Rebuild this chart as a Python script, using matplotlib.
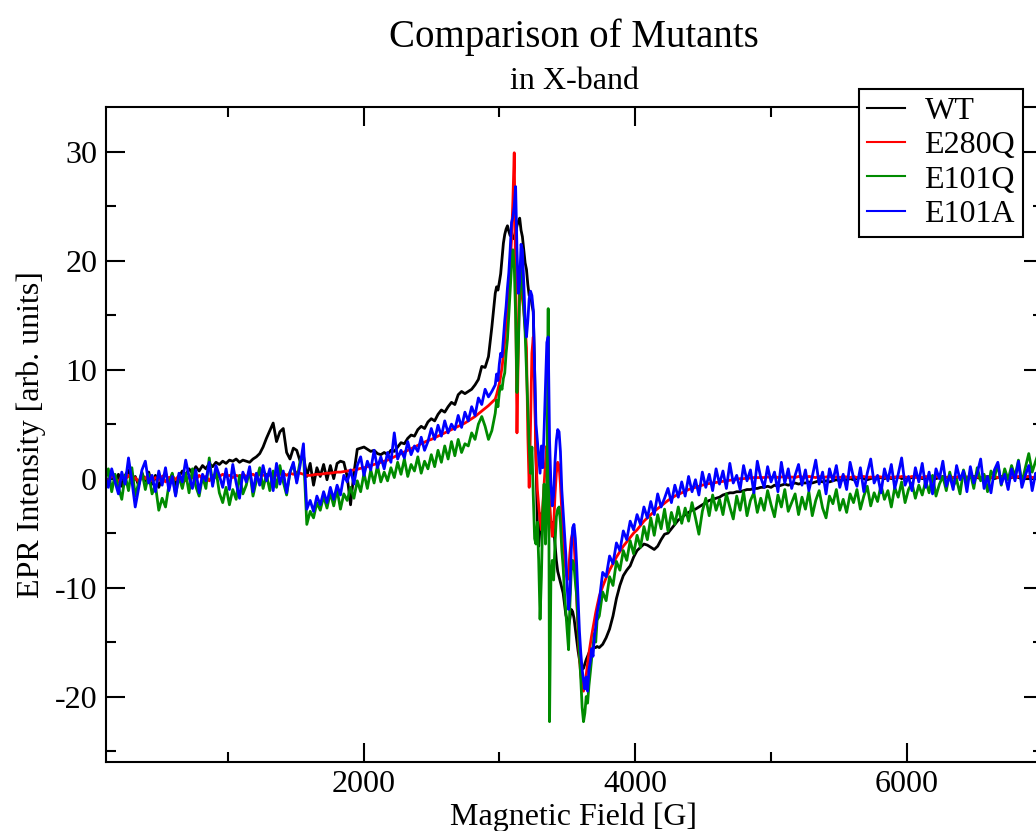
import numpy as np
import matplotlib
matplotlib.use("Agg")
import matplotlib.pyplot as plt
from matplotlib.ticker import MultipleLocator

plt.rcParams['font.family'] = 'Liberation Serif'
plt.rcParams['axes.unicode_minus'] = False

# field grids [G]: outer parts ~25 G apart, the central lines every 10 G
field_lo = np.linspace(96, 2945, 116)
field_c = np.arange(2970, 3721, 10)
field_hi = np.linspace(3736, 7000, 130)

# ---- WT (black)
wt_lo = [0.2, -0.5, 0.6, -0.3, 0.4, -0.7, 0.3, 0.8, -0.4, 0.2, -0.6, 0.5,
         -0.2, 0.6, -0.5, 0.3, -0.8, 0.1, 0.5, -0.3, 0.4, -0.6, 0.2, 0.7,
         0.3, 0.9, 0.5, 1.1, 0.7, 1.2, 0.9, 1.4, 1.1, 1.5, 1.3, 1.6,
         1.4, 1.7, 1.6, 1.8, 1.5, 1.7, 1.6, 1.5, 1.8, 2.0, 2.3, 2.9,
         3.7, 4.4, 5.1, 3.4, 4.3, 4.6, 2.4, 1.8, 2.8, 2.6, 1.6, 2.1,
         0.2, 1.4, -0.6, 1.0, 0.2, 1.3, -0.1, 1.2, 0.0, 1.4, 1.6, 1.5,
         0.2, -2.4, 0.5, 2.7, 2.8, 2.9, 2.7, 2.5, 2.6, 2.3, 2.2, 2.4,
         2.2, 2.6, 2.5, 2.9, 3.3, 3.2, 3.7, 4.0, 3.9, 4.5, 4.8, 4.6,
         5.2, 5.5, 5.3, 5.9, 6.3, 6.1, 6.6, 7.0, 6.8, 7.7, 8.0, 7.8,
         8.0, 8.2, 8.6, 9.1, 10.3, 10.2, 11.2, 13.9]
wt_c = [17.0, 17.6, 17.3, 18.0, 18.8, 20.2, 21.6, 22.4, 22.9, 23.2,
        22.7, 22.3, 22.7, 22.1, 22.0, 22.5, 23.2, 23.6, 23.9, 22.8,
        22.2, 21.0, 19.8, 19.2, 17.8, 16.8, 16.9, 16.0, 15.3, 10.0,
        2.0, -4.0, -6.2, -4.5, -3.2, -3.0, -3.5, -3.8, -3.4, -3.0,
        -3.6, -4.2, -4.0, -4.5, -6.0, -7.5, -8.5, -9.0, -9.5, -10.0,
        -10.5, -11.5, -12.5, -13.0, -13.5, -12.8, -12.0, -12.2, -12.8, -13.8,
        -14.8, -15.8, -16.6, -17.2, -17.5, -17.4, -17.0, -16.6, -16.3, -16.0,
        -15.8, -15.7, -15.6, -15.5, -15.5, -15.4]
wt_hi = [-15.5, -15.2, -14.6, -13.8, -12.6, -11.0, -9.8, -8.9, -8.4, -8.0, -7.2, -6.6,
         -6.3, -6.0, -6.1, -6.3, -6.5, -6.2, -5.6, -5.1, -5.0, -4.6, -4.2, -3.8,
         -3.6, -3.3, -3.1, -2.9, -2.8, -2.6, -2.4, -2.2, -2.0, -1.9, -1.8, -1.7,
         -1.5, -1.4, -1.3, -1.3, -1.2, -1.2, -1.1, -1.0, -1.0, -0.9, -0.9, -0.8,
         -0.8, -0.7, -0.8, -0.6, -0.7, -0.6, -0.5, -0.6, -0.5, -0.4, -0.5, -0.4,
         -0.4, -0.3, -0.4, -0.3, -0.2, -0.3, -0.2, -0.3, -0.2, -0.1, -0.2, -0.1,
         -0.1, 0.0, -0.1, 0.0, 0.1, 0.0, -0.1, 0.0, 0.1, 0.0, 0.1, 0.0,
         0.1, 0.0, 0.1, 0.2, 0.0, 0.1, 0.0, 0.1, 0.2, 0.1, 0.0, 0.1,
         0.2, 0.1, 0.0, 0.1, 0.2, 0.1, 0.0, 0.1, 0.1, 0.2, 0.1, 0.0,
         0.1, 0.2, 0.1, 0.0, 0.1, 0.2, 0.1, 0.0, 0.1, 0.2, 0.1, 0.0,
         0.1, 0.2, 0.1, 0.0, 0.1, 0.2, 0.1, 0.0, 0.1, 0.1]

# ---- E280Q (red)
e280q_lo = [0.1, -0.2, 0.3, 0.0, -0.3, 0.2, -0.1, 0.3, -0.2, 0.1, -0.3, 0.2,
            0.0, 0.3, -0.2, 0.1, -0.1, 0.2, -0.3, 0.1, 0.2, -0.1, 0.3, 0.0,
            -0.2, 0.2, 0.1, -0.1, 0.3, 0.0, 0.2, -0.2, 0.3, 0.1, 0.2, 0.4,
            0.2, 0.3, 0.1, 0.3, 0.2, 0.4, 0.2, 0.3, 0.4, 0.2, 0.4, 0.3,
            0.4, 0.3, 0.5, 0.3, 0.4, 0.5, 0.3, 0.5, 0.4, 0.6, 0.5, 0.4,
            0.3, 0.3, 0.35, 0.4, 0.4, 0.45, 0.5, 0.5, 0.55, 0.6, 0.6, 0.65,
            0.7, 0.75, 0.8, 0.85, 0.95, 1.0, 1.1, 1.2, 1.3, 1.4, 1.5, 1.6,
            1.7, 1.85, 2.0, 2.15, 2.3, 2.45, 2.6, 2.75, 2.9, 3.05, 3.2, 3.35,
            3.5, 3.6, 3.75, 3.9, 4.05, 4.2, 4.35, 4.5, 4.65, 4.8, 4.95, 5.1,
            5.3, 5.5, 5.7, 5.95, 6.2, 6.45, 6.7, 7.0]
e280q_c = [7.3, 7.7, 8.2, 8.7, 9.4, 10.2, 11.3, 12.6, 14.2, 16.0,
           17.5, 19.5, 22.0, 25.5, 29.9, 18.0, 4.2, 12.0, 19.0, 18.5,
           16.5, 15.5, 14.0, 12.0, 4.0, -0.8, 5.0, 11.5, 13.0, 8.0,
           2.0, -1.0, -2.5, -3.8, -4.7, -2.5, -0.5, 1.5, 3.0, 2.0,
           -2.0, -4.0, -5.3, -4.5, -1.5, 0.5, 1.5, 1.2, -0.5, -3.0,
           -5.0, -7.0, -8.5, -9.3, -8.5, -6.8, -5.5, -5.0, -5.8, -8.0,
           -11.0, -14.0, -16.5, -18.0, -19.0, -19.5, -19.0, -18.0, -17.0, -16.0,
           -15.2, -14.4, -13.7, -13.0, -12.3, -11.7]
e280q_hi = [-10.8, -9.9, -9.1, -8.4, -7.8, -7.2, -6.7, -6.2, -5.8, -5.4, -5.0, -4.7,
            -4.3, -3.9, -3.6, -3.3, -3.0, -2.75, -2.5, -2.25, -2.0, -1.8, -1.6, -1.45,
            -1.3, -1.15, -1.0, -0.9, -0.8, -0.7, -0.6, -0.5, -0.45, -0.4, -0.35, -0.3,
            -0.25, -0.2, -0.15, -0.1, -0.05, 0.0, 0.0, 0.05, 0.05, 0.1, 0.1, 0.1,
            0.1, 0.15, 0.1, 0.2, 0.1, 0.15, 0.2, 0.1, 0.15, 0.1, 0.2, 0.15,
            0.1, 0.2, 0.15, 0.1, 0.2, 0.1, 0.15, 0.2, 0.1, 0.15, 0.1, 0.2,
            0.15, 0.1, 0.2, 0.1, 0.15, 0.2, 0.1, 0.15, 0.1, 0.2, 0.15, 0.1,
            0.2, 0.1, 0.15, 0.1, 0.2, 0.15, 0.1, 0.2, 0.1, 0.15, 0.1, 0.2,
            0.1, 0.15, 0.2, 0.1, 0.15, 0.1, 0.2, 0.1, 0.15, 0.2, 0.1, 0.15,
            0.2, 0.1, 0.15, 0.1, 0.2, 0.15, 0.1, 0.2, 0.1, 0.15, 0.2, 0.1,
            0.15, 0.1, 0.2, 0.1, 0.15, 0.2, 0.1, 0.15, 0.1, 0.2]

# ---- E101Q (green)
e101q_lo = [-0.3, 0.9, -1.2, 0.4, -0.8, -1.9, 0.3, -1.1, 1.0, -1.6, -0.4, 0.6,
            -1.0, 0.4, -1.4, -0.6, -2.9, -1.8, -2.6, -0.6, 0.5, -1.5, 0.2, -0.9,
            0.5, -1.3, 0.9, -0.7, -1.6, 0.2, -0.9, 1.9, -0.5, 0.8, -1.3, -2.2,
            -0.8, -2.4, -1.0, -1.9, 0.3, -1.4, -0.6, 0.8, -1.6, -0.2, 1.0, -0.9,
            0.4, -1.1, 0.7, -0.8, 1.2, -0.3, -1.5, 0.6, 1.3, -0.2, 1.6, 2.4,
            -4.2, -3.0, -3.6, -2.2, -2.9, -1.6, -2.7, -1.3, -2.5, -1.0, -2.8, -1.4,
            -2.0, -0.8, -1.8, -0.2, -1.2, 0.5, -0.9, 0.8, -0.4, 1.2, -0.3, 0.6,
            -0.2, 1.0, 0.1, 1.5, 0.4, 1.8, 0.2, 1.3, 0.7, 2.0, 0.5, 1.6,
            0.9, 2.2, 1.1, 2.6, 1.5, 3.0, 1.8, 3.4, 2.1, 3.6, 2.4, 3.2,
            3.0, 4.2, 3.6, 5.0, 5.7, 4.8, 3.6, 4.4]
e101q_c = [6.0, 7.2, 6.6, 7.9, 8.5, 8.2, 9.2, 9.7, 11.5, 12.8,
           15.0, 17.3, 19.5, 21.0, 19.5, 15.0, 7.9, 12.0, 17.0, 19.4,
           18.0, 15.5, 13.4, 10.0, 6.6, 3.0, 0.5, 2.9, -1.5, -5.5,
           -6.0, -4.0, -7.5, -12.9, -9.0, -3.0, -0.5, -6.0, -2.0, 15.6,
           -22.3, -9.0, -7.5, -9.3, -6.0, -3.5, -2.8, -2.6, -4.0, -6.5,
           -8.1, -10.5, -12.3, -14.0, -15.7, -11.5, -8.5, -7.5, -8.0, -9.5,
           -10.8, -13.5, -16.0, -18.4, -21.0, -22.3, -21.5, -20.0, -20.6, -19.0,
           -17.8, -16.5, -15.4, -14.2, -15.0, -13.0]
e101q_hi = [-12.6, -10.4, -11.2, -9.0, -9.8, -7.6, -8.4, -6.6, -7.5, -5.7, -6.9, -5.2,
            -6.3, -4.4, -5.6, -3.6, -5.2, -3.3, -4.6, -2.8, -4.8, -3.1, -4.2, -2.6,
            -4.1, -2.7, -3.9, -2.2, -3.6, -5.1, -3.0, -1.8, -3.4, -1.5, -2.9, -1.9,
            -3.3, -1.4, -2.6, -3.7, -1.6, -2.9, -1.2, -3.4, -2.0, -1.3, -3.1, -1.8,
            -2.9, -1.1, -2.4, -3.5, -1.5, -2.6, -1.0, -3.0, -2.2, -1.4, -3.3, -1.7,
            -2.8, -1.2, -3.4, -2.0, -1.1, -2.7, -3.6, -1.6, -2.3, -1.0, -2.9, -1.9,
            -3.1, -1.4, -2.2, -1.0, -2.8, -1.6, -0.7, -2.5, -1.3, -2.1, -0.6, -1.9,
            -1.1, -2.6, -0.8, -1.7, -0.3, -2.2, -1.0, -0.4, -1.8, -0.6, -1.5, -0.2,
            -1.3, 0.3, -1.6, -0.5, 0.2, -1.1, 0.6, -0.7, -0.1, -1.4, 0.8, -0.3,
            0.5, -0.9, 1.0, -0.2, 0.4, -1.2, 0.7, 0.1, 1.3, -0.6, 0.9, -0.1,
            1.2, 0.2, 1.7, -0.4, 1.0, 2.3, 0.6, 1.6, 2.5, 1.1]

# ---- E101A (blue)
e101a_lo = [0.4, -0.8, 0.9, -0.3, -1.4, 0.6, -0.5, 1.9, -0.2, -2.6, -0.9, 0.8,
            1.6, -0.4, 0.3, -1.2, 0.7, -0.6, 1.0, -1.1, 0.2, -1.6, 0.5, -0.3,
            1.7, 0.2, -0.9, 0.8, -1.3, 0.4, -0.2, 1.5, -0.7, 1.2, 0.3, -0.8,
            0.9, -1.0, 1.3, -0.4, -1.8, 0.6, -0.3, 1.1, -1.2, 0.5, -0.6, 1.2,
            -0.2, 0.9, -1.1, 1.4, -0.5, 0.7, -1.3, 0.6, 1.5, -0.4, 1.2, 3.2,
            -2.8, -2.0, -3.0, -1.6, -2.4, -1.2, -2.2, -0.8, -1.9, -0.6, -1.5, 0.3,
            -0.3, 0.8, -0.5, 1.2, 2.0, 0.3, 1.6, 0.8, 2.6, 1.0, 2.0, 0.9,
            2.4, 1.5, 4.2, 1.8, 2.6, 1.9, 3.4, 2.2, 3.0, 2.5, 3.8, 2.6,
            3.4, 4.6, 3.6, 4.9, 3.9, 5.3, 4.2, 5.0, 4.5, 5.8, 4.7, 6.1,
            5.3, 6.6, 5.8, 7.4, 6.8, 8.2, 7.5, 8.0]
e101a_c = [8.6, 9.6, 9.0, 10.5, 11.5, 11.2, 12.8, 14.5, 15.8, 17.5,
           18.9, 21.0, 23.5, 24.0, 25.0, 26.8, 21.0, 17.0, 18.0, 21.5,
           21.0, 18.0, 14.5, 13.0, 14.5, 16.5, 17.2, 16.8, 15.5, 10.0,
           5.0, 3.5, 2.0, 0.5, 3.0, 1.0, 4.5, 8.5, 12.5, 13.0,
           3.5, -0.5, -2.5, -1.5, 1.5, 3.5, 4.5, 4.3, 2.5, -1.0,
           -3.0, -5.0, -7.0, -10.0, -12.0, -10.5, -6.5, -4.5, -4.2, -5.5,
           -8.0, -11.0, -14.0, -16.0, -17.5, -18.5, -19.3, -18.2, -19.5, -17.5,
           -16.8, -15.6, -16.3, -14.5, -13.6, -12.4]
e101a_hi = [-11.2, -8.6, -9.0, -7.1, -7.8, -5.9, -6.6, -4.8, -5.6, -3.9, -4.7, -3.3,
            -4.2, -2.6, -3.6, -2.1, -3.3, -1.4, -2.6, -1.8, -0.9, -2.2, -0.6, -1.7,
            -0.3, -1.6, 0.2, -1.2, -0.1, -1.5, 0.6, -0.8, 0.4, -1.1, 0.9, -0.5,
            0.7, -0.9, 1.4, -0.4, 0.3, -1.0, 1.2, -0.2, 0.8, -1.3, 1.6, 0.1,
            -0.8, 1.1, -0.3, 0.6, -1.2, 1.5, -0.4, 0.9, -0.9, 0.3, 1.3, -0.6,
            0.8, -1.1, 0.2, 1.7, -0.5, 0.6, -1.4, 0.9, -0.2, 1.2, -0.8, 0.4,
            -1.0, 1.5, 0.1, -0.7, 1.0, -1.2, 0.5, 1.8, -0.4, 0.3, -1.3, 0.9,
            -0.2, 1.3, -0.9, 0.4, 1.9, -0.6, 0.2, -1.1, 1.0, -0.3, 1.4, -0.8,
            0.6, -1.4, 0.9, 0.0, 1.6, -0.7, 0.3, -1.0, 1.2, -0.1, 0.7, -1.2,
            1.1, -0.4, 0.5, 1.8, -0.9, 0.2, -1.3, 0.8, 1.5, -0.5, 0.4, -1.0,
            0.9, -0.2, 1.6, -0.8, 0.3, 1.2, -1.1, 0.5, -0.6, 0.4]

labels = ["WT", "E280Q", "E101Q", "E101A"]
colors = ["black", "#ff0000", "#008b00", "#0000ff"]
data = [(wt_lo, wt_c, wt_hi), (e280q_lo, e280q_c, e280q_hi),
        (e101q_lo, e101q_c, e101q_hi), (e101a_lo, e101a_c, e101a_hi)]

field = np.concatenate([field_lo, field_c, field_hi])

W, H = 1036, 831
fig = plt.figure(figsize=(W / 100, H / 100), dpi=100)
ax = fig.add_axes([105.5 / W, 1 - 762 / H, (1042.5 - 105.5) / W, (762 - 107) / H])

for lab, col, (lo, c, hi) in zip(labels, colors, data):
    for part, ref in ((lo, field_lo), (c, field_c), (hi, field_hi)):
        assert len(part) == len(ref), (lab, len(part), len(ref))
    ax.plot(field, np.concatenate([lo, c, hi]), color=col, lw=2.0, label=lab)

ax.set_xlim(100, 7000)
ax.set_ylim(-26, 34.1)
ax.xaxis.set_major_locator(MultipleLocator(2000))
ax.xaxis.set_minor_locator(MultipleLocator(1000))
ax.yaxis.set_major_locator(MultipleLocator(10))
ax.yaxis.set_minor_locator(MultipleLocator(5))
ax.tick_params(which='both', direction='in', top=True, right=True, width=1.5,
               labelsize=23, colors='black')
ax.tick_params(which='major', length=13.5)
ax.tick_params(which='minor', length=7)
ax.tick_params(axis='x', pad=6)
ax.tick_params(axis='y', pad=6)
for s in ax.spines.values():
    s.set_linewidth(1.5)

ax.set_xlabel('Magnetic Field [G]', fontsize=23)
ax.xaxis.set_label_coords(0.5, -0.062)
ax.set_ylabel('EPR Intensity [arb. units]', fontsize=23)
ax.yaxis.set_label_coords(-0.064, 0.5)

fig.text(574 / W, 1 - 47 / H, 'Comparison of Mutants', ha='center', va='baseline', fontsize=28)
fig.text(574 / W, 1 - 89 / H, 'in X-band', ha='center', va='baseline', fontsize=23)

leg = ax.legend(loc='upper right', bbox_to_anchor=(1023 / W, 1 - 89 / H),
                bbox_transform=fig.transFigure, fontsize=23, frameon=True,
                fancybox=False, edgecolor='black', framealpha=1, borderaxespad=0,
                handlelength=1.2, handletextpad=0.6, labelspacing=0.15, borderpad=0.25)
leg.get_frame().set_linewidth(1.5)
for h in leg.get_lines():
    h.set_linewidth(1.5)

fig.savefig('out.png', dpi=100)
